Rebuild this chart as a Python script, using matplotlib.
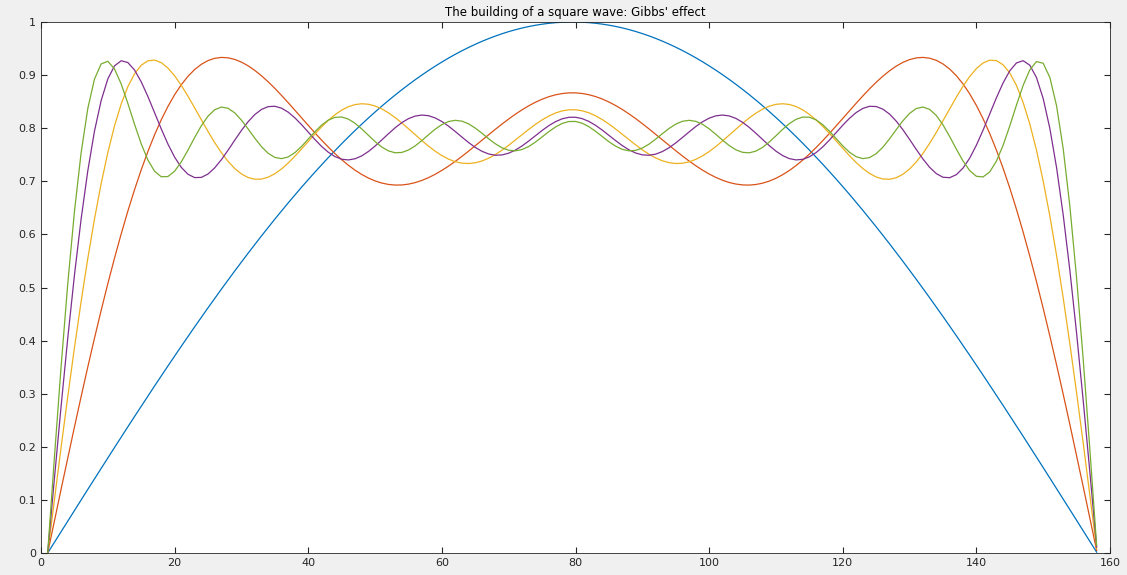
import numpy as np
import matplotlib
matplotlib.use("Agg")
import matplotlib.pyplot as plt

# Underlying data: partial Fourier sums of a square wave (MATLAB example)
t = np.arange(0, 3.14 + 1e-9, 0.02)          # 158 samples
harmonics = [1, 3, 5, 7, 9, 11, 13, 15, 17, 19]
shown_rows = [0, 2, 4, 6, 8]                  # y(1:2:9,:)
colors = ["#0072BD", "#D95319", "#EDB120", "#7E2F8E", "#77AC30"]
xticks = [0, 20, 40, 60, 80, 100, 120, 140, 160]
yticks = [0, 0.1, 0.2, 0.3, 0.4, 0.5, 0.6, 0.7, 0.8, 0.9, 1]

rows = []
acc = np.zeros_like(t)
for k in harmonics:
    acc = acc + np.sin(k * t) / k
    rows.append(acc.copy())

fig = plt.figure(figsize=(11.27, 5.75), dpi=100, facecolor="#F0F0F0")
ax = fig.add_axes([41/1127, 22/575, (1110-41)/1127, (553-22)/575])
idx = np.arange(1, len(t) + 1)
for r, c in zip(shown_rows, colors):
    ax.plot(idx, rows[r], color=c, lw=0.9)
ax.set_xlim(0, 160)
ax.set_ylim(0, 1)
ax.set_xticks(xticks)
ax.set_yticks(yticks)
ax.set_yticklabels([f"{v:g}" for v in yticks])
ax.tick_params(direction="in", labelsize=8, length=4, top=True, right=True,
               labeltop=False, labelright=False, colors="#262626")
for s in ax.spines.values():
    s.set_color("#262626"); s.set_linewidth(0.6)
ax.set_title("The building of a square wave: Gibbs' effect", fontsize=8.5, pad=4)
fig.savefig("out.png", dpi=100, facecolor=fig.get_facecolor())
